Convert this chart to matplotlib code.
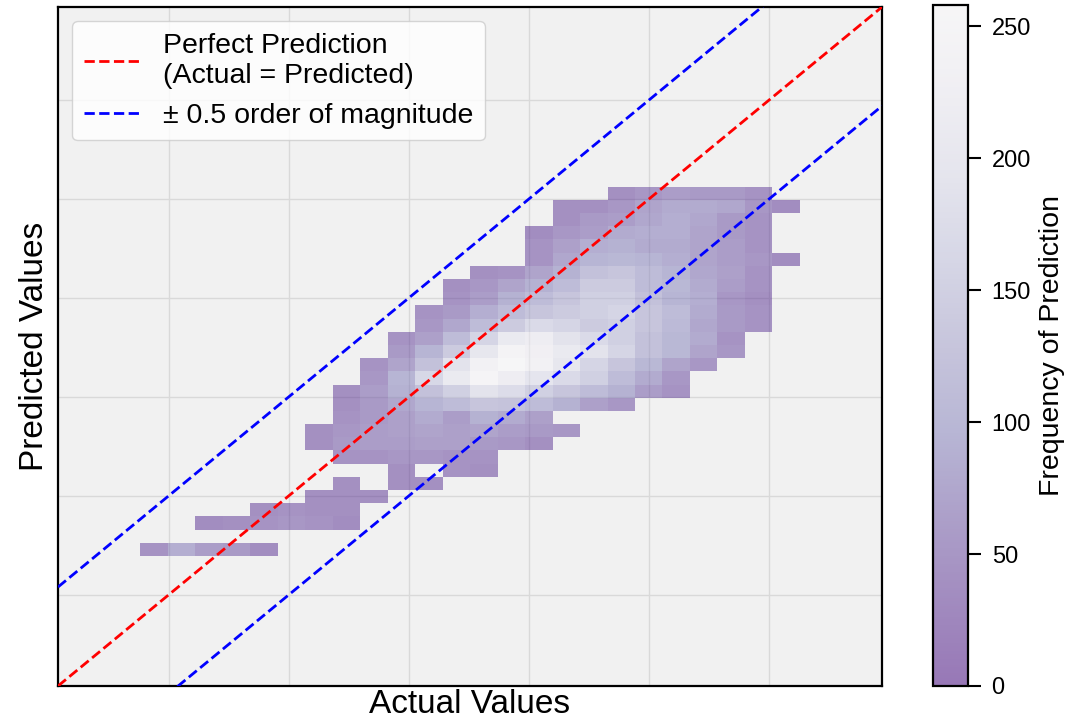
import numpy as np
import matplotlib
matplotlib.use("Agg")
import matplotlib.pyplot as plt
from matplotlib.ticker import MultipleLocator

plt.rcParams["font.family"] = ["Liberation Sans", "DejaVu Sans"]

# log10 space, same limits on both axes
AXIS_LIMITS = (0.04, 3.47)
BAND = 0.5

# extent of the non-empty part of the 2D histogram
X_RANGE = (0.383, 3.128)   # 24 columns
Y_RANGE = (0.697, 2.562)   # 28 rows
N_COLS = 24

# counts per row, top row first: (first column, counts from there)
hist_rows = [
    (17, [40, 50, 60, 55, 55, 45]),
    (15, [40, 40, 50, 70, 80, 80, 75, 50, 35]),
    (15, [40, 55, 60, 75, 85, 75, 55, 45]),
    (14, [35, 50, 60, 80, 85, 85, 70, 55, 45]),
    (14, [45, 65, 85, 90, 80, 80, 70, 60, 45]),
    (14, [45, 75, 95, 100, 95, 85, 70, 60, 50, 35]),
    (12, [40, 45, 70, 90, 120, 130, 110, 95, 75, 65, 45]),
    (11, [40, 50, 70, 90, 110, 140, 140, 110, 100, 80, 60, 45]),
    (11, [45, 60, 90, 110, 130, 150, 150, 120, 95, 85, 50, 40]),
    (10, [45, 55, 85, 110, 130, 140, 150, 160, 130, 110, 80, 55, 45]),
    (10, [50, 75, 110, 140, 170, 160, 140, 150, 130, 105, 75, 55, 45]),
    (9, [45, 65, 110, 160, 210, 220, 190, 170, 150, 120, 100, 80, 45]),
    (9, [55, 95, 140, 200, 245, 230, 210, 190, 160, 120, 100, 70, 50]),
    (8, [45, 70, 120, 190, 235, 258, 235, 200, 160, 130, 100, 70, 50]),
    (8, [50, 95, 165, 210, 250, 220, 195, 170, 150, 110, 80, 50]),
    (7, [40, 60, 90, 120, 150, 190, 175, 150, 130, 110, 90, 60, 45]),
    (7, [40, 55, 75, 95, 110, 130, 125, 110, 90, 65, 50]),
    (7, [45, 55, 65, 80, 60, 90, 80, 65]),
    (6, [40, 50, 60, 65, 70, 65, 70, 60, 55, 50]),
    (6, [40, 55, 60, 60, 65, 65, 55, 50, 40]),
    (7, [45, 45, 50, 50, 45, 45]),
    (9, [40, 0, 45, 40]),
    (7, [40, 0, 40, 40]),
    (6, [40, 40, 40]),
    (4, [40, 45, 40, 40]),
    (2, [35, 40, 45, 50, 45, 35]),
    (0, []),
    (0, [45, 85, 60, 55, 35]),
]

counts = np.zeros((len(hist_rows), N_COLS))
for i, (start, vals) in enumerate(hist_rows):
    counts[i, start:start + len(vals)] = vals
counts = np.ma.masked_equal(np.flipud(counts), 0)

x_edges = np.linspace(*X_RANGE, N_COLS + 1)
y_edges = np.linspace(*Y_RANGE, len(hist_rows) + 1)

fig = plt.figure(figsize=(10.71, 7.23), dpi=100)
ax = fig.add_axes([58 / 1071, 37 / 723, 824 / 1071, 679 / 723])
cax = fig.add_axes([933 / 1071, 37 / 723, 35 / 1071, 681 / 723])

ax.set_facecolor("#f1f1f1")
cax.set_facecolor("#f1f1f1")
ax.set_axisbelow(True)
ax.grid(True, color="#d9d9d9", linewidth=1)

mesh = ax.pcolormesh(x_edges, y_edges, counts, cmap="Purples_r",
                     vmin=0, vmax=counts.max(), alpha=0.5, zorder=2)

line_x = np.array(AXIS_LIMITS)
ax.plot(line_x, line_x, "--", color="red", lw=2, zorder=3,
        label="Perfect Prediction\n(Actual = Predicted)")
ax.plot(line_x, line_x + BAND, "--", color="blue", lw=2, zorder=3,
        label="± 0.5 order of magnitude")
ax.plot(line_x, line_x - BAND, "--", color="blue", lw=2, zorder=3)

ax.set_xlim(AXIS_LIMITS)
ax.set_ylim(AXIS_LIMITS)
ax.xaxis.set_major_locator(MultipleLocator(0.5))
ax.yaxis.set_major_locator(MultipleLocator(0.5))
ax.tick_params(length=0, labelbottom=False, labelleft=False)
for spine in ax.spines.values():
    spine.set_linewidth(1.6)
    spine.set_color("black")

ax.set_xlabel("Actual Values", fontsize=24, labelpad=2)
ax.set_ylabel("Predicted Values", fontsize=24, labelpad=6)

ax.legend(loc="upper left", fontsize=20.5)

cbar = fig.colorbar(mesh, cax=cax)
cbar.set_label("Frequency of Prediction", fontsize=20.5, labelpad=6)
cbar.outline.set_linewidth(1.6)
cax.tick_params(labelsize=17, length=9, width=1.5, pad=8)

fig.savefig("out.png", dpi=100)
